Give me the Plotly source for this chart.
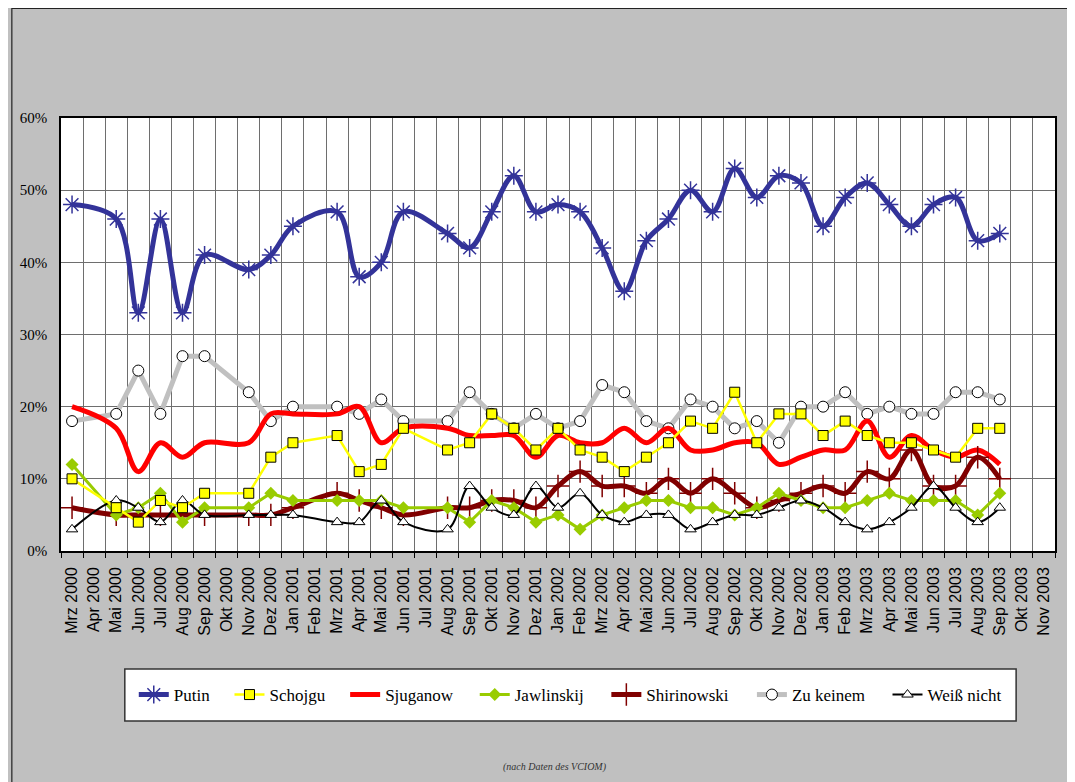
import plotly.graph_objects as go

# ---- data ----
all_months = [
    "Mrz 2000", "Apr 2000", "Mai 2000", "Jun 2000", "Jul 2000", "Aug 2000", "Sep 2000", "Okt 2000", "Nov 2000", "Dez 2000",
    "Jan 2001", "Feb 2001", "Mrz 2001", "Apr 2001", "Mai 2001", "Jun 2001", "Jul 2001", "Aug 2001", "Sep 2001", "Okt 2001", "Nov 2001", "Dez 2001",
    "Jan 2002", "Feb 2002", "Mrz 2002", "Apr 2002", "Mai 2002", "Jun 2002", "Jul 2002", "Aug 2002", "Sep 2002", "Okt 2002", "Nov 2002", "Dez 2002",
    "Jan 2003", "Feb 2003", "Mrz 2003", "Apr 2003", "Mai 2003", "Jun 2003", "Jul 2003", "Aug 2003", "Sep 2003", "Okt 2003", "Nov 2003",
]

survey_months = [
    "Mrz 2000", "Mai 2000", "Jun 2000", "Jul 2000", "Aug 2000", "Sep 2000", "Nov 2000", "Dez 2000",
    "Jan 2001", "Mrz 2001", "Apr 2001", "Mai 2001", "Jun 2001", "Aug 2001", "Sep 2001", "Okt 2001", "Nov 2001", "Dez 2001",
    "Jan 2002", "Feb 2002", "Mrz 2002", "Apr 2002", "Mai 2002", "Jun 2002", "Jul 2002", "Aug 2002", "Sep 2002", "Okt 2002", "Nov 2002", "Dez 2002",
    "Jan 2003", "Feb 2003", "Mrz 2003", "Apr 2003", "Mai 2003", "Jun 2003", "Jul 2003", "Aug 2003", "Sep 2003",
]

putin = [48, 46, 33, 46, 33, 41, 39, 41,
         45, 47, 38, 40, 47, 44, 42, 47, 52, 47,
         48, 47, 42, 36, 43, 46, 50, 47, 53, 49, 52, 51,
         45, 49, 51, 48, 45, 48, 49, 43, 44]
schojgu = [10, 6, 4, 7, 6, 8, 8, 13,
           15, 16, 11, 12, 17, 14, 15, 19, 17, 14,
           17, 14, 13, 11, 13, 15, 18, 17, 22, 15, 19, 19,
           16, 18, 16, 15, 15, 14, 13, 17, 17]
sjuganow = [20, 17, 11, 15, 13, 15, 15, 19,
            19, 19, 20, 15, 17, 17, 16, 16, 16, 13,
            16, 15, 15, 17, 15, 17, 14, 14, 15, 15, 12, 13,
            14, 14, 18, 13, 16, 14, 13, 14, 12]
jawlinskij = [12, 5, 6, 8, 4, 6, 6, 8,
              7, 7, 7, 7, 6, 6, 4, 7, 6, 4,
              5, 3, 5, 6, 7, 7, 6, 6, 5, 6, 8, 7,
              6, 6, 7, 8, 7, 7, 7, 5, 8]
shirinowski = [6, 5, 5, 5, 5, 5, 5, 5,
               6, 8, 7, 6, 5, 6, 6, 7, 7, 6,
               9, 11, 9, 9, 8, 10, 8, 10, 8, 6, 7, 8,
               9, 8, 11, 10, 14, 9, 9, 13, 10]
zu_keinem = [18, 19, 25, 19, 27, 27, 22, 18,
             20, 20, 19, 21, 18, 18, 22, 19, 17, 19,
             17, 18, 23, 22, 18, 17, 21, 20, 17, 18, 15, 20,
             20, 22, 19, 20, 19, 19, 22, 22, 21]
weiss_nicht = [3, 7, 6, 4, 7, 5, 5, 5,
               5, 4, 4, 7, 4, 3, 9, 6, 5, 9,
               6, 8, 5, 4, 5, 5, 3, 4, 5, 5, 6, 7,
               6, 4, 3, 4, 6, 9, 6, 4, 6]

y_ticks = [0, 10, 20, 30, 40, 50, 60]
y_tick_labels = ["0%", "10%", "20%", "30%", "40%", "50%", "60%"]

# ---- layout geometry (figure pixels) ----
W, H = 1075, 782
L, R, T, B = 50, 1047, 110, 543  # plot area edges in px
PW, PH = R - L, B - T


def px2x(px):
    return (px - L) / PW


def px2y(py):
    return (B - py) / PH


fig = go.Figure()

# drawing order (bottom to top); each trace gets its own legend for exact placement
fig.add_trace(go.Scatter(
    x=survey_months, y=zu_keinem, name="Zu keinem", legend="legend6",
    mode="lines+markers", line=dict(color="#C0C0C0", width=5),
    marker=dict(symbol="circle", size=11, color="white", line=dict(color="black", width=1)),
))
fig.add_trace(go.Scatter(
    x=survey_months, y=sjuganow, name="Sjuganow", legend="legend3",
    mode="lines", line=dict(color="#FF0000", width=5, shape="spline"),
))
fig.add_trace(go.Scatter(
    x=survey_months, y=shirinowski, name="Shirinowski", legend="legend5",
    mode="lines+markers", line=dict(color="#800000", width=5, shape="spline"),
    marker=dict(symbol="cross-thin-open", size=16, color="#800000", line=dict(color="#800000", width=1.5)),
))
fig.add_trace(go.Scatter(
    x=survey_months, y=jawlinskij, name="Jawlinskij", legend="legend4",
    mode="lines+markers", line=dict(color="#99CC00", width=3),
    marker=dict(symbol="diamond", size=10, color="#99CC00", line=dict(width=0)),
))
fig.add_trace(go.Scatter(
    x=survey_months, y=weiss_nicht, name="Weiß nicht", legend="legend7",
    mode="lines+markers", line=dict(color="black", width=2, shape="spline"),
    marker=dict(symbol="triangle-up", size=10, color="white", line=dict(color="black", width=1)),
))
fig.add_trace(go.Scatter(
    x=survey_months, y=schojgu, name="Schojgu", legend="legend2",
    mode="lines+markers", line=dict(color="#FFFF00", width=2.5),
    marker=dict(symbol="square", size=10, color="#FFFF00", line=dict(color="black", width=1)),
))
fig.add_trace(go.Scatter(
    x=survey_months, y=putin, name="Putin", legend="legend",
    mode="lines+markers", line=dict(color="#333399", width=5, shape="spline"),
    marker=dict(symbol="asterisk-open", size=15, color="#333399", line=dict(color="#333399", width=1.5)),
))

shapes = [
    # outer frame
    dict(type="rect", xref="paper", yref="paper", x0=px2x(0.7), x1=px2x(1200), y0=px2y(0.5), y1=px2y(900),
         fillcolor="rgba(0,0,0,0)", line=dict(color="#222222", width=1.2), layer="below"),
    # legend box
    dict(type="rect", xref="paper", yref="paper", x0=px2x(114), x1=px2x(1008), y0=px2y(713), y1=px2y(661),
         fillcolor="white", line=dict(color="#333333", width=1.5), layer="below"),
]

# legend text starts (figure px) for each entry
legend_text_x = [165, 261, 377, 507, 639, 785, 921]
legend_keys = ["legend", "legend2", "legend3", "legend4", "legend5", "legend6", "legend7"]
legend_layouts = {}
for key, tx in zip(legend_keys, legend_text_x):
    legend_layouts[key] = dict(
        orientation="h", x=px2x(tx - 42), xanchor="left", y=px2y(687), yanchor="middle",
        bgcolor="rgba(0,0,0,0)", borderwidth=0,
        font=dict(family="Liberation Serif", size=17, color="black"),
    )

fig.update_layout(
    width=W, height=H,
    margin=dict(l=L, r=W - R, t=T, b=H - B, pad=0),
    paper_bgcolor="#C0C0C0",
    plot_bgcolor="white",
    showlegend=True,
    shapes=shapes,
    annotations=[dict(
        text="<i>(nach Daten des VCIOM)</i>", xref="paper", yref="paper",
        x=px2x(545), y=px2y(759), xanchor="center", yanchor="middle", showarrow=False,
        font=dict(family="Liberation Serif", size=10, color="#333333"),
    )],
    xaxis=dict(
        type="category", categoryorder="array", categoryarray=all_months,
        tickmode="array", tickvals=all_months, ticktext=all_months,
        range=[-0.5, len(all_months) - 0.5],
        tickson="boundaries", ticks="outside", ticklen=5, tickcolor="black",
        showgrid=True, gridcolor="#6e6e6e", gridwidth=1,
        showline=True, mirror=True, linecolor="black", linewidth=1.5,
        tickangle=-90, ticklabelstandoff=8,
        tickfont=dict(family="Liberation Sans", size=16, color="black"),
    ),
    yaxis=dict(
        range=[0, 60], tickmode="array", tickvals=y_ticks, ticktext=y_tick_labels,
        showgrid=True, gridcolor="#6e6e6e", gridwidth=1, zeroline=False,
        showline=True, mirror=True, linecolor="black", linewidth=1.5,
        ticks="", ticklabelstandoff=9,
        tickfont=dict(family="Liberation Serif", size=15, color="black"),
    ),
    **legend_layouts,
)

fig.write_html("out.html")
